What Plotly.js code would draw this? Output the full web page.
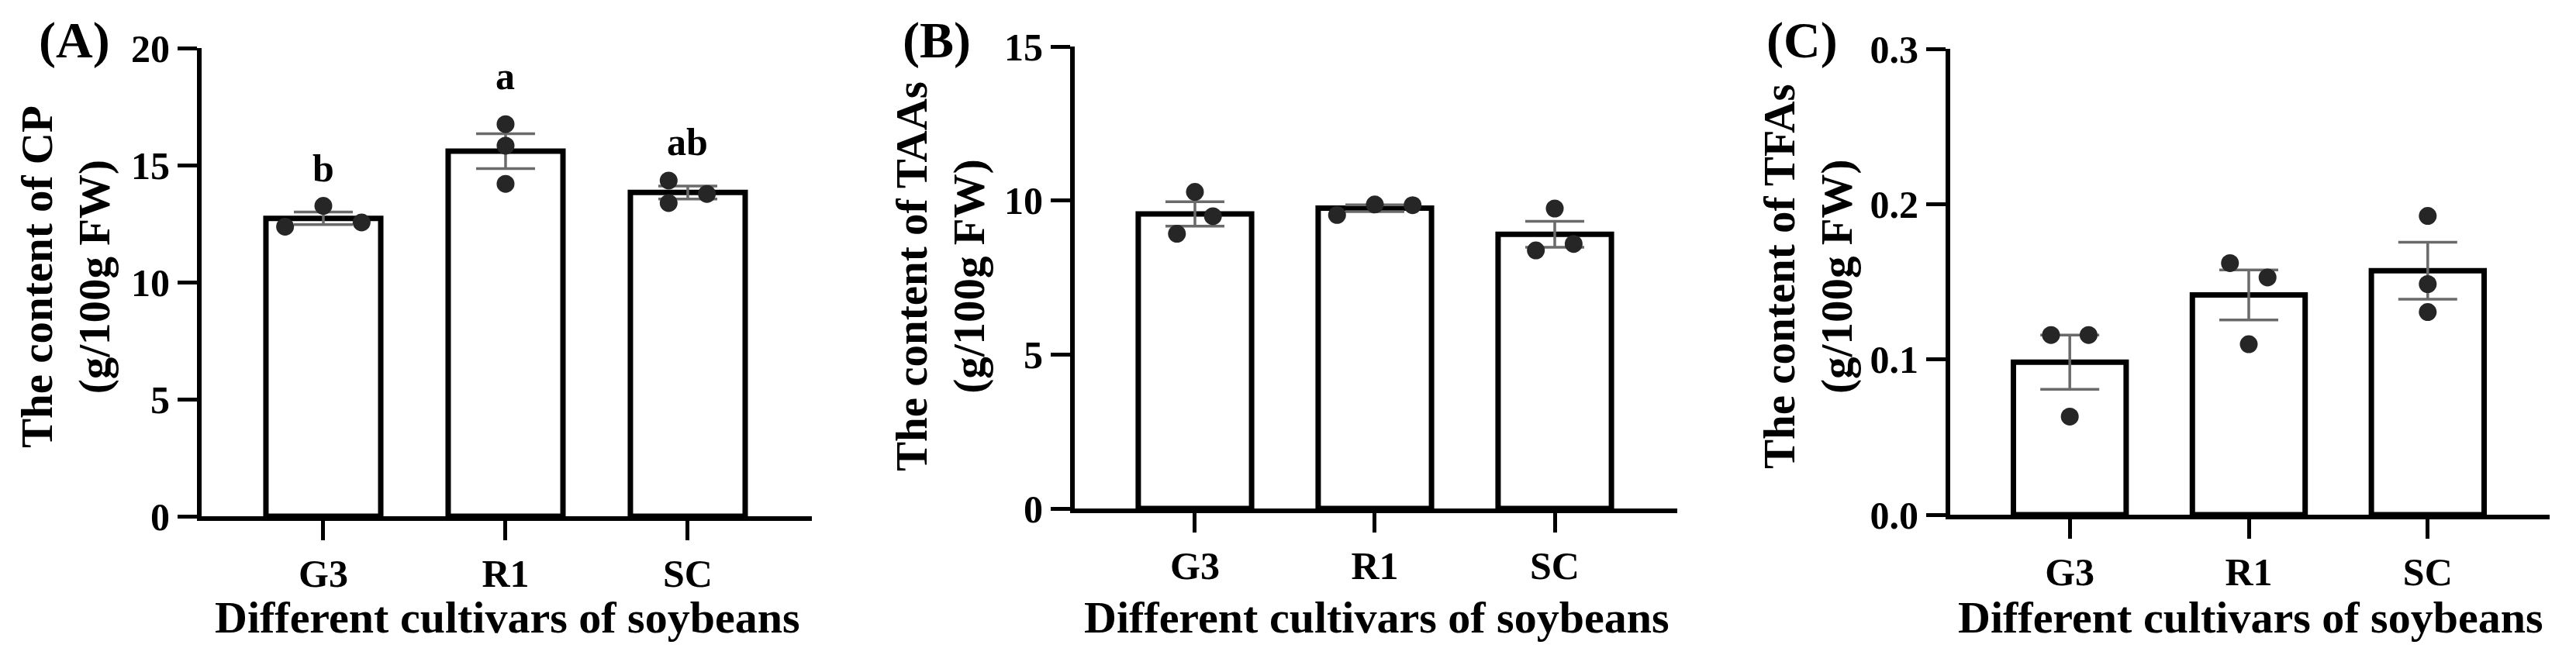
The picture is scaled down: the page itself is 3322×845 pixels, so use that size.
<!DOCTYPE html>
<html>
<head>
<meta charset="utf-8">
<script src="https://cdn.plot.ly/plotly-3.0.1.min.js"></script>
<style>
    html, body { margin: 0; padding: 0; background: #fff; }
    #chart { width: 3322px; height: 845px; }
</style>
</head>
<body>
<div id="chart"></div>
<script>
// Cultivars on the x axis
const cultivars = ['G3', 'R1', 'SC'];

// Replicates (g/100g FW), three per cultivar
const cpValues = [
    [12.37, 13.26, 12.55],
    [16.75, 15.83, 14.20],
    [14.34, 13.38, 13.77]
];
const taaValues = [
    [8.92, 10.28, 9.49],
    [9.53, 9.87, 9.85],
    [9.74, 8.38, 8.59]
];
const tfaValues = [
    [0.1157, 0.1157, 0.0632],
    [0.1620, 0.1528, 0.1098],
    [0.1924, 0.1485, 0.1305]
];

// Significance letters (panel A only)
const cpLetters = ['b', 'a', 'ab'];

// Axis text
const panelLabels = ['(A)', '(B)', '(C)'];
const yTitles = ['The content of CP', 'The content of TAAs', 'The content of TFAs'];
const yUnit = '(g/100g FW)';
const xTitle = 'Different cultivars of soybeans';
const yTicksA = [0, 5, 10, 15, 20];
const yTicksB = [0, 5, 10, 15];
const yTicksC = [0, 0.1, 0.2, 0.3];

// ---- layout / style settings ----
const W = 3322, H = 845;
const FONT = 'Liberation Serif, Times New Roman, serif';

// plot frames in page pixels
const frames = [
    { x0: 260, x1: 1047, y0: 62, y1: 666, titleX: 85, labelX: 96 },
    { x0: 1386, x1: 2163, y0: 60, y1: 656, titleX: 1213, labelX: 1208 },
    { x0: 2515, x1: 3288, y0: 63, y1: 664, titleX: 2332, labelX: 2324 }
];

// horizontal spread of the replicate dots, in category units
const spread = [
    [[-0.21, 0, 0.21], [0, 0, 0], [-0.105, -0.105, 0.105]],
    [[-0.1, 0, 0.1], [-0.21, 0, 0.21], [0, -0.105, 0.105]],
    [[-0.105, 0.105, 0], [-0.105, 0.105, 0], [0, 0, 0]]
];

const letterLift = [0.62, 1.05, 0.66];

const px = x => x / W;
const py = y => 1 - y / H;

function mean(arr) {
    return arr.reduce((a, b) => a + b, 0) / arr.length;
}

function sem(arr) {
    const m = mean(arr);
    const ss = arr.reduce((a, b) => a + (b - m) * (b - m), 0);
    return Math.sqrt(ss / (arr.length - 1)) / Math.sqrt(arr.length);
}

const panels = [
    { values: cpValues, ticks: yTicksA, fmt: '' },
    { values: taaValues, ticks: yTicksB, fmt: '' },
    { values: tfaValues, ticks: yTicksC, fmt: '.1f' }
];

const traces = [];
const layout = {
    width: W,
    height: H,
    margin: { l: 0, r: 0, t: 0, b: 0 },
    paper_bgcolor: '#fff',
    plot_bgcolor: 'rgba(0,0,0,0)',
    showlegend: false,
    font: { family: FONT, color: '#000', weight: 'bold' },
    annotations: []
};

panels.forEach((p, k) => {
    const n = k + 1;
    const xa = n === 1 ? 'x' : 'x' + n;
    const ya = n === 1 ? 'y' : 'y' + n;
    const f = frames[k];
    const catIdx = cultivars.map((c, i) => i);

    // bars with SEM
    traces.push({
        type: 'bar',
        xaxis: xa, yaxis: ya,
        x: catIdx,
        y: p.values.map(mean),
        width: 0.63,
        marker: { color: '#fff', line: { color: '#000', width: 7 } },
        error_y: {
            type: 'data',
            array: p.values.map(sem),
            visible: true,
            color: '#6a6a6a',
            thickness: 3.5,
            width: 38
        },
        hoverinfo: 'skip'
    });

    // replicate dots
    const xs = [], ys = [];
    p.values.forEach((reps, i) => {
        reps.forEach((v, j) => {
            xs.push(i + spread[k][i][j]);
            ys.push(v);
        });
    });
    traces.push({
        type: 'scatter',
        mode: 'markers',
        xaxis: xa, yaxis: ya,
        x: xs, y: ys,
        marker: { size: 23, color: '#262626' },
        cliponaxis: false,
        hoverinfo: 'skip'
    });

    const top = p.ticks[p.ticks.length - 1];
    layout[n === 1 ? 'xaxis' : 'xaxis' + n] = {
        domain: [px(f.x0), px(f.x1)],
        anchor: ya,
        range: [-0.668, 2.681],
        tickvals: catIdx,
        ticktext: cultivars,
        ticks: 'outside', ticklen: 25, tickwidth: 5, tickcolor: '#000',
        showline: true, linewidth: 6, linecolor: '#000',
        showgrid: false, zeroline: false,
        tickfont: { family: FONT, size: 50, weight: 'bold' },
        fixedrange: true
    };
    layout[n === 1 ? 'yaxis' : 'yaxis' + n] = {
        domain: [py(f.y1), py(f.y0)],
        anchor: xa,
        range: [0, top],
        tickvals: p.ticks,
        tickformat: p.fmt,
        ticks: 'outside', ticklen: 25, tickwidth: 5, tickcolor: '#000',
        showline: true, linewidth: 6, linecolor: '#000',
        showgrid: false, zeroline: false,
        tickfont: { family: FONT, size: 50, weight: 'bold' },
        fixedrange: true
    };

    // panel label
    layout.annotations.push({
        xref: 'paper', yref: 'paper',
        x: px(f.labelX), y: py(52),
        xanchor: 'center', yanchor: 'middle',
        text: panelLabels[k], showarrow: false,
        font: { family: FONT, size: 66, weight: 'bold' }
    });

    // y title
    layout.annotations.push({
        xref: 'paper', yref: 'paper',
        x: px(f.titleX), y: py(357),
        xanchor: 'center', yanchor: 'middle',
        textangle: -90,
        text: yTitles[k] + '<br>' + yUnit, showarrow: false,
        font: { family: FONT, size: 57, weight: 'bold' }
    });

    // x title
    layout.annotations.push({
        xref: 'paper', yref: 'paper',
        x: px((f.x0 + f.x1) / 2), y: py(796),
        xanchor: 'center', yanchor: 'middle',
        text: xTitle, showarrow: false,
        font: { family: FONT, size: 58, weight: 'bold' }
    });
});

// significance letters above panel A
cpLetters.forEach((letter, i) => {
    layout.annotations.push({
        xref: 'x', yref: 'y',
        x: i, y: Math.max(...cpValues[i]) + letterLift[i],
        xanchor: 'center', yanchor: 'bottom',
        text: letter, showarrow: false,
        font: { family: FONT, size: 50, weight: 'bold' }
    });
});

Plotly.newPlot('chart', traces, layout, { displayModeBar: false, staticPlot: true });
</script>
</body>
</html>
